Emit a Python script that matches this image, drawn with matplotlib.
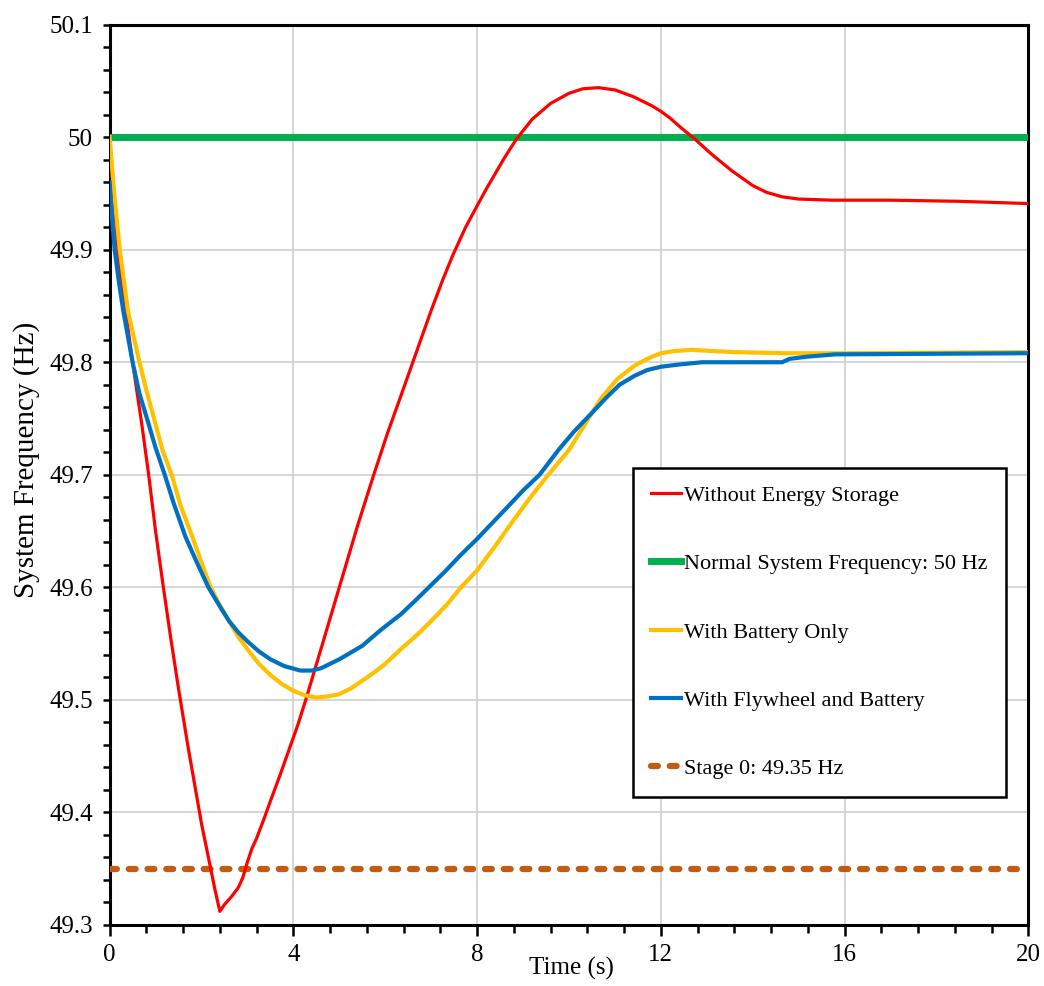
import matplotlib
matplotlib.use('Agg')
import matplotlib.pyplot as plt
from matplotlib.ticker import MultipleLocator, FuncFormatter

plt.rcParams['font.family'] = ['Liberation Serif', 'DejaVu Serif']

# without energy storage
t_red = [0, 0.1, 0.2, 0.35, 0.5, 0.7, 0.85, 1.0, 1.17, 1.33, 1.5, 1.7, 1.85,
         2.0, 2.15, 2.3, 2.4, 2.5, 2.65, 2.8, 2.9, 3.0, 3.1, 3.2, 3.35, 3.5,
         3.7, 3.9, 4.1, 4.27, 4.6, 5.0, 5.4, 5.75, 6.05, 6.34, 6.6, 7.0, 7.25,
         7.47, 7.75, 8.0, 8.2, 8.4, 8.6, 8.85, 9.2, 9.6, 10.0, 10.3, 10.64,
         11.0, 11.4, 11.8, 12.0, 12.2, 12.45, 12.75, 13.1, 13.55, 14.0, 14.3,
         14.64, 15.0, 15.74, 17.0, 18.5, 20.0]
f_red = [50.0, 49.94, 49.89, 49.845, 49.80, 49.745, 49.70, 49.65, 49.60,
         49.555, 49.51, 49.46, 49.425, 49.39, 49.36, 49.33, 49.312, 49.318,
         49.325, 49.333, 49.342, 49.356, 49.368, 49.377, 49.393, 49.41,
         49.432, 49.455, 49.478, 49.50, 49.545, 49.60, 49.655, 49.70, 49.737,
         49.77, 49.80, 49.846, 49.873, 49.895, 49.92, 49.939, 49.954, 49.968,
         49.982, 49.998, 50.016, 50.03, 50.039, 50.043, 50.044, 50.042,
         50.036, 50.028, 50.023, 50.017, 50.008, 49.998, 49.985, 49.970,
         49.957, 49.951, 49.947, 49.945, 49.944, 49.944, 49.943, 49.941]

# with battery only
t_bat = [0, 0.1, 0.22, 0.4, 0.65, 0.8, 1.0, 1.15, 1.35, 1.55, 1.8, 2.0, 2.2,
         2.4, 2.6, 2.8, 3.0, 3.25, 3.5, 3.75, 4.0, 4.25, 4.5, 4.75, 5.0, 5.25,
         5.5, 5.75, 6.0, 6.34, 6.7, 7.0, 7.35, 7.65, 8.0, 8.4, 8.8, 9.2, 9.55,
         10.0, 10.35, 10.7, 11.05, 11.43, 11.7, 12.0, 12.3, 12.68, 13.1, 13.6,
         14.7, 16.0, 20.0]
f_bat = [50.0, 49.95, 49.90, 49.845, 49.80, 49.775, 49.745, 49.722, 49.70,
         49.672, 49.645, 49.622, 49.60, 49.584, 49.57, 49.556, 49.545, 49.532,
         49.522, 49.514, 49.508, 49.504, 49.502, 49.503, 49.505, 49.51,
         49.517, 49.524, 49.532, 49.545, 49.558, 49.57, 49.585, 49.60, 49.615,
         49.637, 49.66, 49.682, 49.70, 49.722, 49.745, 49.768, 49.785, 49.797,
         49.803, 49.808, 49.810, 49.811, 49.810, 49.809, 49.808, 49.808, 49.809]

# with flywheel and battery
t_fly = [0, 0.05, 0.11, 0.2, 0.3, 0.5, 0.65, 0.85, 1.0, 1.2, 1.4, 1.65, 1.9,
         2.15, 2.4, 2.6, 2.8, 3.0, 3.25, 3.5, 3.8, 4.15, 4.4, 4.6, 5.0, 5.25,
         5.5, 5.9, 6.34, 6.65, 6.95, 7.3, 7.65, 8.0, 8.35, 8.7, 9.0, 9.36,
         9.77, 10.1, 10.5, 10.8, 11.1, 11.43, 11.7, 12.0, 12.4, 12.9, 14.0,
         14.64, 14.8, 15.2, 15.8, 20.0]
f_fly = [49.96, 49.93, 49.90, 49.872, 49.845, 49.80, 49.772, 49.745, 49.724,
         49.70, 49.674, 49.645, 49.622, 49.60, 49.583, 49.57, 49.56, 49.552,
         49.543, 49.536, 49.53, 49.526, 49.526, 49.528, 49.536, 49.542,
         49.548, 49.562, 49.576, 49.588, 49.60, 49.614, 49.629, 49.643,
         49.658, 49.673, 49.686, 49.70, 49.722, 49.738, 49.755, 49.768, 49.78,
         49.788, 49.793, 49.796, 49.798, 49.80, 49.80, 49.80, 49.803, 49.805,
         49.807, 49.808]

t_span = [0, 20]
f_normal = [50.0, 50.0]
f_stage0 = [49.35, 49.35]

fig = plt.figure(figsize=(10.44, 9.86), dpi=100)
ax = fig.add_axes([0.105, 0.062, 0.88, 0.913])

ax.plot(t_red, f_red, color='#FF0000', lw=2.3, label='Without Energy Storage', zorder=4)
ax.plot(t_span, f_normal, color='#00B050', lw=5, label='Normal System Frequency: 50 Hz', zorder=3)
ax.plot(t_bat, f_bat, color='#FFC000', lw=3, label='With Battery Only', zorder=4)
ax.plot(t_fly, f_fly, color='#0070C0', lw=3, label='With Flywheel and Battery', zorder=5)
ax.plot(t_span, f_stage0, color='#C55A11', lw=4.5, dashes=(1.1, 1.9),
        dash_capstyle='round', label='Stage 0: 49.35 Hz', zorder=3)

ax.set_xlim(0, 20)
ax.set_ylim(49.3, 50.1)
ax.xaxis.set_major_locator(MultipleLocator(4))
ax.xaxis.set_minor_locator(MultipleLocator(0.8))
ax.yaxis.set_major_locator(MultipleLocator(0.1))
ax.yaxis.set_minor_locator(MultipleLocator(0.02))
ax.yaxis.set_major_formatter(FuncFormatter(lambda v, p: '%g' % round(v, 2)))

ax.grid(True, which='major', color='#D0D0D0', lw=1.2)
ax.set_axisbelow(True)
for s in ax.spines.values():
    s.set_linewidth(2.2)

ax.tick_params(axis='both', which='both', direction='out', width=1.8, labelsize=18)
ax.tick_params(axis='y', which='both', length=5, pad=7)
ax.tick_params(axis='x', which='major', length=8, pad=6)
ax.tick_params(axis='x', which='minor', length=6)

ax.set_xlabel('Time (s)', fontsize=18)
ax.xaxis.set_label_coords(0.503, -0.048)
ax.xaxis.label.set_va('center')
ax.set_ylabel('System Frequency (Hz)', fontsize=21)
ax.yaxis.set_label_coords(-0.09, 0.517)
ax.yaxis.label.set_va('center')

leg = ax.legend(loc='lower left', bbox_to_anchor=(0.57, 0.142), fontsize=16,
                frameon=True, fancybox=False, edgecolor='black', framealpha=1,
                handlelength=1.35, handletextpad=0.15, labelspacing=2.15,
                borderpad=0.8, borderaxespad=0)
leg.get_frame().set_linewidth(1.8)

fig.savefig('out.png', dpi=100)
